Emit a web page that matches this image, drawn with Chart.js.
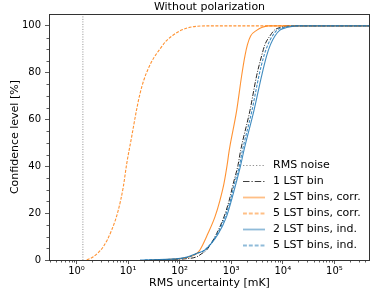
<!DOCTYPE html>
<html><head><meta charset="utf-8">
<script src="https://cdn.jsdelivr.net/npm/chart.js@4/dist/chart.umd.min.js"></script>
<style>html,body{margin:0;padding:0;background:#fff;} canvas{display:block;}</style>
</head><body>
<canvas id="c" width="390" height="293"></canvas>
<script>
const chartTitle = 'Without polarization';
const xAxisTitle = 'RMS uncertainty [mK]';
const yAxisTitle = 'Confidence level [%]';
const seriesLabels = ['RMS noise', '1 LST bin', '2 LST bins, corr.', '5 LST bins, corr.', '2 LST bins, ind.', '5 LST bins, ind.'];
const xTickValues = [1, 10, 100, 1000, 10000, 100000];
const xTickLabels = ['10⁰', '10¹', '10²', '10³', '10⁴', '10⁵'];
const yTickValues = [0, 20, 40, 60, 80, 100];

const rmsNoiseX = [1.33, 1.33];
const rmsNoiseY = [0, 105];

const confLevels = [0, 0.5, 1.4, 2.8, 4.3, 11.3, 18.4, 25.5, 32.6, 40.4, 46.8, 63.8, 78.7, 87.2, 92, 95.7, 98.2, 99.3, 100, 100];
const bin1X  = [33, 127, 216, 271, 334, 521, 722, 914, 1093, 1349, 1521, 2303, 3105, 3883, 4498, 5623, 6875, 8790, 12560, 500000];
const corr2X = [27, 93, 158, 213, 247, 353, 483, 604, 722, 830, 914, 1273, 1591, 1844, 2061, 2377, 3148, 3883, 5143, 500000];
const ind2X  = [17, 85, 145, 213, 309, 565, 807, 1009, 1233, 1521, 1762, 2754, 3883, 4853, 5754, 7031, 8790, 11850, 18500, 500000];
const ind5X  = [21, 93, 158, 216, 309, 540, 755, 965, 1153, 1442, 1648, 2518, 3443, 4303, 5143, 6285, 7690, 10040, 15000, 500000];

const corr5X = [1.58, 2.12, 3.31, 4.81, 6.46, 8.07, 9.4, 11.7, 14.5, 17.0, 20.3, 24.9, 31.8, 41.5, 54.3, 74.1, 101, 145, 207, 334, 500000];
const corr5Y = [0, 1.4, 5.7, 12.8, 21.3, 31.2, 41.1, 52.5, 63.8, 71, 77, 82, 86.5, 90.1, 93.5, 96, 97.9, 99.2, 99.8, 100, 100];

const zip = (xs, ys) => xs.map((v, i) => ({x: v, y: ys[i]}));

const ORANGE = 'rgba(255,127,14,0.85)';
const ORANGE_L = 'rgba(255,127,14,0.5)';
const BLUE = 'rgba(31,119,180,0.85)';
const BLUE_L = 'rgba(31,119,180,0.5)';

const seriesStyles = [
  {color: 'rgba(120,120,120,0.8)', legend: 'rgba(120,120,120,0.8)', dash: [1, 1.5], w: 1},
  {color: 'rgba(0,0,0,0.85)', legend: 'rgba(0,0,0,0.75)', dash: [5, 1.5, 1, 1.5], w: 1},
  {color: ORANGE, legend: ORANGE_L, dash: [], w: 1.1},
  {color: ORANGE, legend: ORANGE_L, dash: [3, 1.5], w: 1.1},
  {color: BLUE, legend: BLUE_L, dash: [], w: 1.1},
  {color: BLUE, legend: BLUE_L, dash: [3, 1.5], w: 1.1}
];

const seriesData = [
  zip(rmsNoiseX, rmsNoiseY),
  zip(bin1X, confLevels),
  zip(corr2X, confLevels),
  zip(corr5X, corr5Y),
  zip(ind2X, confLevels),
  zip(ind5X, confLevels)
];

Chart.defaults.font.family = "'DejaVu Sans', sans-serif";
Chart.defaults.color = '#000';

const decor = {
  id: 'decor',
  afterDraw(chart) {
    const {ctx, chartArea: a, scales: {x, y}} = chart;
    ctx.save();
    ctx.setLineDash([]);
    ctx.strokeStyle = '#333';
    ctx.lineWidth = 1;
    ctx.strokeRect(Math.round(a.left) + 0.5, Math.round(a.top) + 0.5, Math.round(a.right - a.left) - 1, Math.round(a.bottom - a.top));
    ctx.beginPath();
    for (let d = -1; d <= 5; d++) {
      for (let k = 2; k <= 9; k++) {
        const v = k * Math.pow(10, d);
        if (v < x.min || v > x.max) continue;
        const px = Math.round(x.getPixelForValue(v)) + 0.5;
        ctx.moveTo(px, a.bottom); ctx.lineTo(px, a.bottom + 2.5);
      }
    }
    for (let v = 5; v < 105; v += 5) {
      if (v % 20 === 0) continue;
      const py = Math.round(y.getPixelForValue(v)) + 0.5;
      ctx.moveTo(a.left, py); ctx.lineTo(a.left - 2.5, py);
    }
    ctx.lineWidth = 0.8;
    ctx.stroke();

    // legend
    const lx0 = a.right - 127, lx1 = a.right - 105, tx = a.right - 97;
    const ly0 = a.bottom - 95, dy = 16;
    ctx.font = "11px 'DejaVu Sans', sans-serif";
    ctx.textBaseline = 'middle';
    ctx.textAlign = 'left';
    seriesLabels.forEach((lab, i) => {
      const st = seriesStyles[i];
      const yy = Math.round(ly0 + i * dy) + 0.5;
      ctx.beginPath();
      ctx.setLineDash(st.dash.map(v => v * 1.3));
      ctx.strokeStyle = st.legend;
      ctx.lineWidth = i < 2 ? 1.1 : 1.8;
      ctx.moveTo(lx0, yy); ctx.lineTo(lx1, yy);
      ctx.stroke();
      ctx.setLineDash([]);
      ctx.fillStyle = '#000';
      ctx.fillText(lab, tx, yy);
    });
    ctx.restore();
  }
};

new Chart(document.getElementById('c'), {
  type: 'line',
  data: {
    datasets: seriesData.map((d, i) => ({
      label: seriesLabels[i],
      data: d,
      borderColor: seriesStyles[i].color,
      borderWidth: seriesStyles[i].w,
      borderDash: seriesStyles[i].dash,
      pointRadius: 0,
      fill: false,
      cubicInterpolationMode: 'monotone',
      order: 5 - i
    }))
  },
  options: {
    responsive: false,
    animation: false,
    devicePixelRatio: 1,
    layout: {padding: {left: 0, right: 20, top: 0, bottom: 0}},
    plugins: {
      legend: {display: false},
      tooltip: {enabled: false},
      title: {
        display: true, text: chartTitle, fullSize: false,
        font: {size: 11, weight: 'normal'}, padding: {top: 1, bottom: 0}, color: '#000'
      }
    },
    scales: {
      x: {
        type: 'logarithmic',
        min: 0.293, max: 490000,
        afterFit: s => { s.height = 33; },
        afterBuildTicks: s => { s.ticks = xTickValues.map(v => ({value: v, major: true})); },
        ticks: {
          autoSkip: false, maxRotation: 0, padding: 1,
          font: {size: 10},
          callback: (v, i) => xTickLabels[i]
        },
        grid: {drawOnChartArea: false, drawTicks: true, tickLength: 4, tickColor: '#333', tickWidth: 0.8},
        border: {display: false},
        title: {display: true, text: xAxisTitle, font: {size: 11}, padding: {top: 0, bottom: 3}}
      },
      y: {
        type: 'linear',
        min: 0, max: 105,
        afterFit: s => { s.width = 49; },
        afterBuildTicks: s => { s.ticks = yTickValues.map(v => ({value: v})); },
        ticks: {font: {size: 10}, padding: 4, callback: v => String(v)},
        grid: {drawOnChartArea: false, drawTicks: true, tickLength: 4, tickColor: '#333', tickWidth: 0.8},
        border: {display: false},
        title: {display: true, text: yAxisTitle, font: {size: 11}, padding: {top: 9, bottom: 0}}
      }
    }
  },
  plugins: [decor]
});
</script>
</body></html>
